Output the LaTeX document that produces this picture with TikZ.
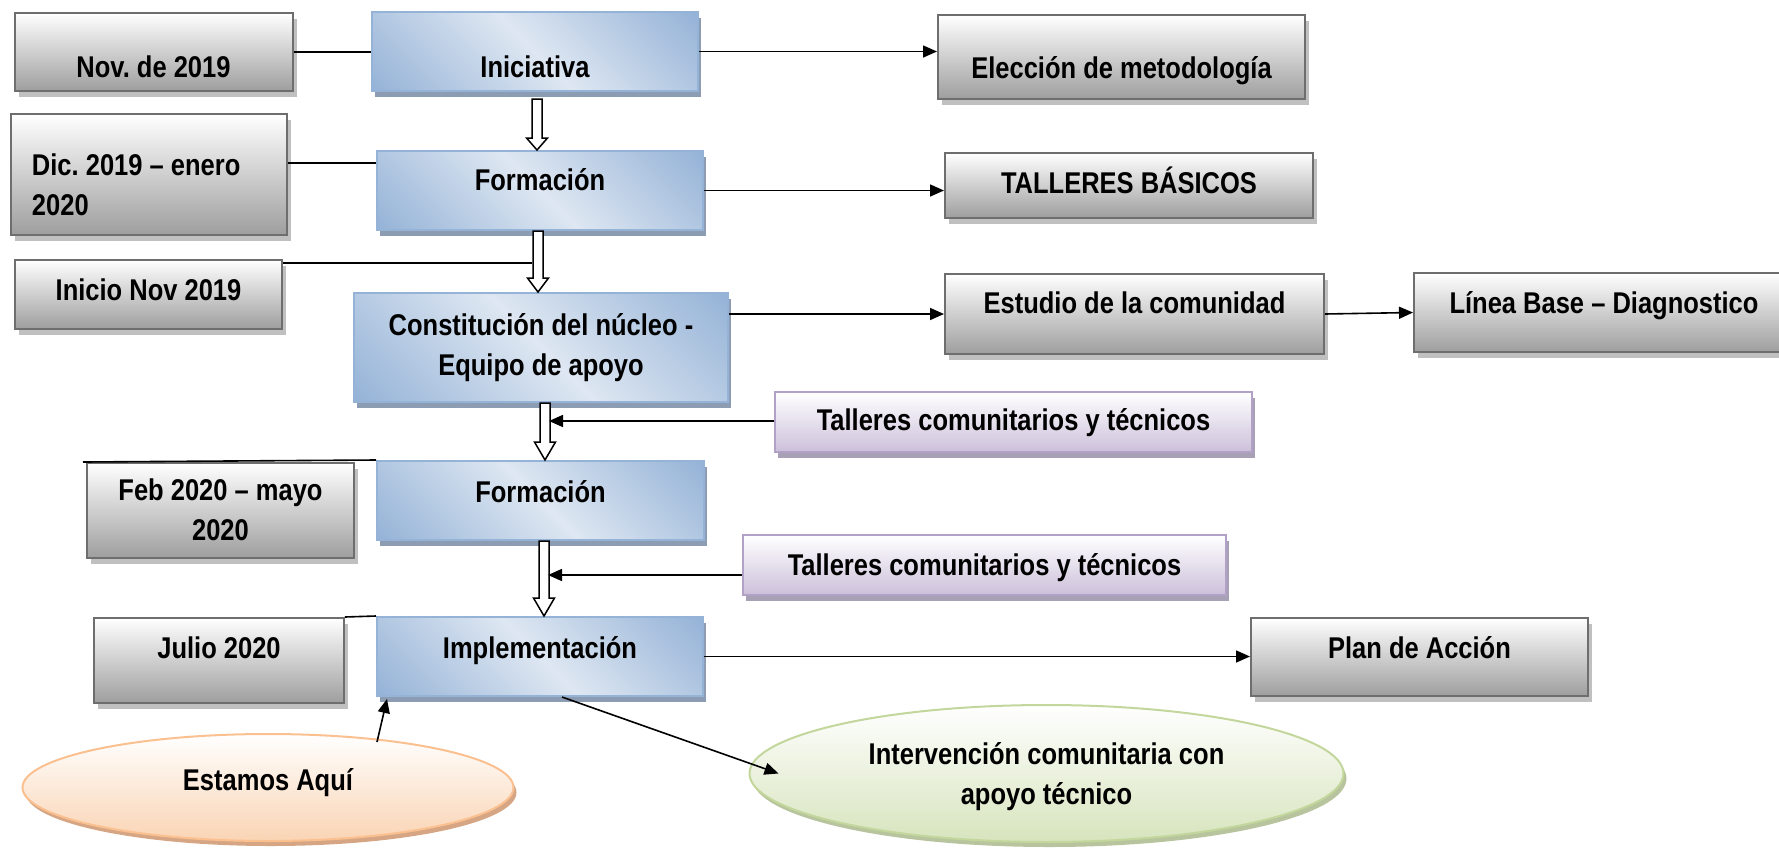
\documentclass[tikz,border=0pt]{standalone}
\usepackage{fontspec}
\setmainfont{Liberation Sans}[FakeStretch=0.85]
\usetikzlibrary{arrows.meta,calc,shadows,shapes.geometric}

\definecolor{grayline}{RGB}{110,110,110}
\definecolor{graybot}{RGB}{158,158,158}
\definecolor{grayshadow}{RGB}{192,192,192}
\definecolor{bluedk}{RGB}{149,179,215}
\definecolor{bluelt}{RGB}{222,231,242}
\definecolor{blueshadow}{RGB}{140,156,178}
\definecolor{lilaline}{RGB}{178,161,199}
\definecolor{lilabot}{RGB}{204,192,218}
\definecolor{lilashadow}{RGB}{168,160,181}
\definecolor{orangeline}{RGB}{250,192,144}
\definecolor{orangebot}{RGB}{250,212,180}
\definecolor{orangeshadow}{RGB}{214,166,132}
\definecolor{greenline}{RGB}{195,214,155}
\definecolor{greenbot}{RGB}{215,228,189}
\definecolor{greenshadow}{RGB}{183,196,158}

\pgfdeclarehorizontalshading{bluediag}{100bp}{color(0bp)=(bluedk); color(15bp)=(bluedk); color(50bp)=(bluelt); color(85bp)=(bluedk); color(100bp)=(bluedk)}

\newcommand{\headlen}{6pt}

\tikzset{
  txtpos/.style 2 args={text height=#1, text depth=#2},
  box/.style={rectangle, line width=1pt, inner ysep=0pt, align=center},
  graybox/.style={box, draw=grayline, top color=white, bottom color=graybot,
    drop shadow={shadow xshift=2pt, shadow yshift=-3pt, fill=grayshadow, opacity=1}},
  bluebox/.style={box, draw=bluedk, shade, shading=bluediag, shading angle=45,
    drop shadow={shadow xshift=1.5pt, shadow yshift=-3pt, fill=blueshadow, opacity=1}},
  lilabox/.style={box, draw=lilaline, top color=white, bottom color=lilabot,
    drop shadow={shadow xshift=1.5pt, shadow yshift=-3pt, fill=lilashadow, opacity=1}},
  oval/.style={ellipse, line width=1pt, inner sep=0pt, align=center},
  line/.style={draw, line width=0.8pt},
  tip/.style={line, -{Triangle[length=7pt,width=6pt]}},
  headlen/.store in=\headlen,
  hollow/.style={draw, fill=white, line width=0.75pt, line join=miter, to path={
    let \p1=(\tikztostart), \p2=(\tikztotarget) in
    (\x2-2.5pt,\y1) -- (\x2-2.5pt,\y2+\headlen) -- (\x2-5.25pt,\y2+\headlen) -- (\x2,\y2)
    -- (\x2+5.25pt,\y2+\headlen) -- (\x2+2.5pt,\y2+\headlen) -- (\x2+2.5pt,\y1) -- cycle}}
}

\begin{document}
\begin{tikzpicture}[x=0.5pt, y=-0.5pt, font=\fontsize{15pt}{20pt}\selectfont\bfseries\frenchspacing]

      \useasboundingbox (0,0) rectangle (1779,847);

      % dates and results
      \begin{scope}[every node/.style={graybox}]
        \node (1)  [minimum width=139pt, txtpos={32pt}{7pt}]      at (153.5,52)  {Nov. de 2019};
        \node (3)  [minimum width=183.5pt, txtpos={31.5pt}{10.5pt}] at (1121.5,57) {Elección de metodología};
        \node (4)  [text width=117pt, inner xsep=10.5pt, align=flush left, txtpos={30.5pt}{30pt}] at (149,174.5) {Dic. 2019 – enero\\2020};
        \node (6)  [minimum width=184pt, txtpos={20pt}{12.5pt}]   at (1129,185.5) {TALLERES BÁSICOS};
        \node (7)  [minimum width=133.5pt, txtpos={20pt}{14.5pt}] at (148.5,294.5) {Inicio Nov 2019};
        \node (9)  [minimum width=189.5pt, txtpos={19.5pt}{20.5pt}] at (1134.5,314) {Estudio de la comunidad};
        \node (10) [minimum width=190pt, txtpos={20pt}{19.5pt}]   at (1604,312.5) {Línea Base – Diagnostico};
        \node (13) [minimum width=133.5pt, txtpos={38.5pt}{9pt}]  at (220.5,510.5) {Feb 2020 – mayo\\2020};
        \node (15) [minimum width=125pt, txtpos={20pt}{22.5pt}]   at (219,660.5) {Julio 2020};
        \node (17) [minimum width=168.5pt, txtpos={20pt}{19pt}]   at (1419.5,657) {Plan de Acción};
      \end{scope}

      % stages
      \begin{scope}[every node/.style={bluebox}]
        \node (2)  [minimum width=163pt, txtpos={32.5pt}{7pt}]    at (535,51.5)  {Iniciativa};
        \node (5)  [minimum width=163pt, txtpos={19.5pt}{20pt}]   at (540,190.5) {Formación};
        \node (8)  [minimum width=187pt, txtpos={41pt}{13.5pt}]   at (541,347.5) {Constitución del núcleo -\\Equipo de apoyo};
        \node (12) [minimum width=163.5pt, txtpos={20.5pt}{19pt}] at (540.5,500.5) {Formación};
        \node (16) [minimum width=163pt, txtpos={20.5pt}{19pt}]   at (540,656.5) {Implementación};
      \end{scope}

      \begin{scope}[every node/.style={lilabox}]
        \node (11) [minimum width=238.5pt, txtpos={19pt}{11pt}]   at (1013.5,422) {Talleres comunitarios y técnicos};
        \node (14) [minimum width=241.5pt, txtpos={20pt}{10pt}]   at (984.5,565) {Talleres comunitarios y técnicos};
      \end{scope}

      \node (18) [oval, draw=orangeline, top color=white, bottom color=orangebot,
        minimum width=245.5pt, minimum height=53.5pt, txtpos={10pt}{7.5pt},
        drop shadow={shadow xshift=1.5pt, shadow yshift=-2.5pt, fill=orangeshadow, opacity=1}]
        at (268,787.5) {Estamos Aquí};
      \node (19) [oval, draw=greenline, top color=white, bottom color=greenbot,
        minimum width=297pt, minimum height=68.5pt, txtpos={39pt}{8pt},
        drop shadow={shadow xshift=1.5pt, shadow yshift=-2.5pt, fill=greenshadow, opacity=1}]
        at (1046.5,773.5) {Intervención comunitaria con\\apoyo técnico};

      % connectors
      \coordinate (a) at (532,263);
      \coordinate (b) at (549,421);
      \coordinate (c) at (548,575);
      \coordinate (d) at ([yshift=-6.5pt]5.north west);

      \draw[hollow, headlen=6pt] ([yshift=-3.5pt]2.south) to ([xshift=-1.5pt]5.north);
      \draw[hollow, headlen=7pt] (5.south) to ([xshift=-1.5pt]8.north);
      \draw[hollow, headlen=9pt] (8.south) to ([xshift=2.25pt]12.north);
      \draw[hollow, headlen=9pt] (12.south) to ([xshift=2pt]16.north);

      \path[line] (1.east) -- (1.east -| 2.west);
      \path[tip]  (2.east) -- (2.east -| 3.west);
      \path[line] (4.east |- d) -- (d);
      \path[tip]  (5.east) -- (5.east -| 6.west);
      \path[line] (7.north east |- a) -- (a);
      \path[tip]  (9.west -| 8.east) -- (9.west);
      \path[tip]  (9.east) -- (10.west);
      \path[tip]  (11.west |- b) -- (b);
      \path[line] ([xshift=-1.5pt]13.north west) -- (12.north west);
      \path[tip]  (14.west |- c) -- (c);
      \path[line] (15.north east) -- (16.north west);
      \path[tip]  (16.east) -- (16.east -| 17.west);
      \path[tip]  ([xshift=11pt]16.south) -- ([xshift=15pt]19.west);
      \path[tip]  ([xshift=54.5pt,yshift=-4.5pt]18.north) -- ([xshift=5.5pt,yshift=-1pt]16.south west);

    \end{tikzpicture}
\end{document}
